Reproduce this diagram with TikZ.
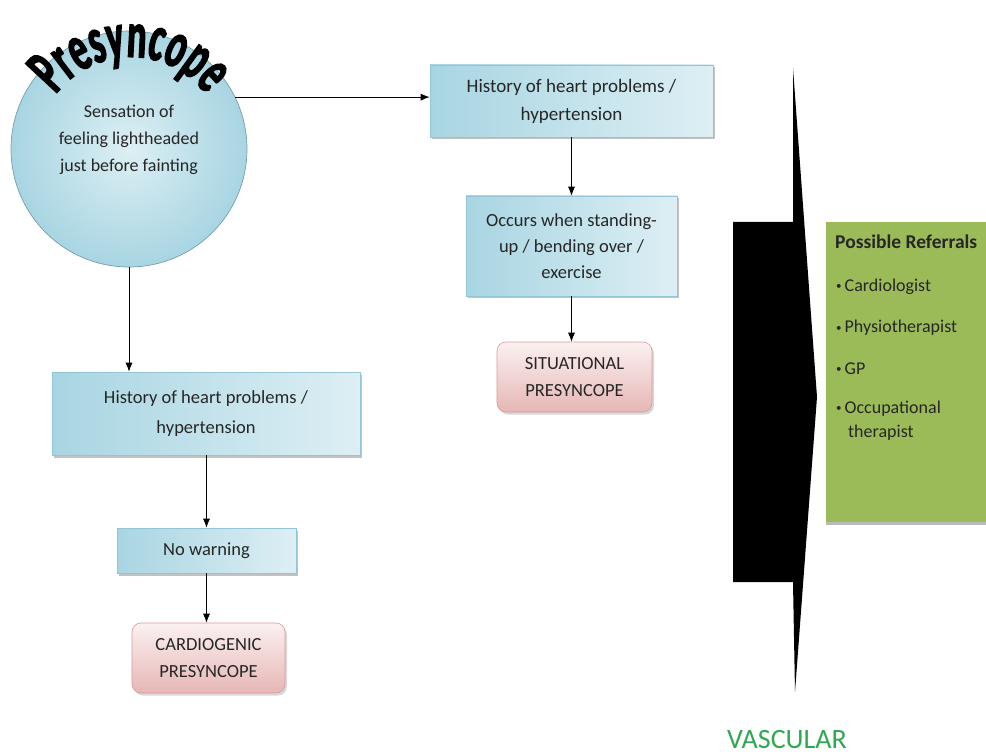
\documentclass[tikz,border=0pt]{standalone}
\usepackage{fontspec}
\setmainfont{Carlito}
\newfontfamily\arcfont[FakeStretch=0.55,FakeBold=2]{Carlito}
\usetikzlibrary{arrows.meta,shadows,decorations.text}

\definecolor{txt}{HTML}{262626}
\definecolor{blueD}{HTML}{A8D5E2}
\definecolor{blueL}{HTML}{DDEFF4}
\definecolor{blueEdge}{HTML}{93C5D4}
\definecolor{pinkT}{HTML}{FBF1F1}
\definecolor{pinkB}{HTML}{E6B6B5}
\definecolor{pinkEdge}{HTML}{D99A98}
\definecolor{olive}{HTML}{9BBB59}
\definecolor{vgreen}{HTML}{30A852}

\newcommand{\refbullet}{{\fontsize{11}{11}\selectfont\raisebox{1.8pt}{•}}\,}

\tikzset{
  boxtext/.style={text=txt, align=center, font=\fontsize{18.5}{28}\selectfont, inner sep=0pt},
  bluebox/.style={boxtext, rectangle, draw=blueEdge, line width=0.6pt,
    left color=blueD, right color=blueL,
    drop shadow={shadow xshift=2pt, shadow yshift=-2.5pt, fill=black!40, opacity=0.6}},
  pinkbox/.style={boxtext, rectangle, rounded corners=9pt, draw=pinkEdge, line width=0.6pt,
    top color=pinkT, bottom color=pinkB, font=\fontsize{18.5}{27}\selectfont,
    drop shadow={shadow xshift=2pt, shadow yshift=-2.5pt, fill=black!30, opacity=0.5}},
  arr/.style={draw=black, line width=0.8pt, -{Latex[length=9pt,width=7pt]}},
  reftext/.style={text=black!85, anchor=base west, inner sep=0pt, font=\fontsize{18}{20}\selectfont},
}

\begin{document}
\begin{tikzpicture}[x=1pt,y=1pt]
\useasboundingbox (0,0) rectangle (986,-754);

% start circle
\node[circle, minimum size=236pt, inner sep=0pt, draw=blueEdge!80!black, line width=0.7pt,
      shading=radial, inner color=blueL, outer color=blueD] (circ) at (129,-149) {};
\path[decorate, decoration={text along path, text align=center,
      text={|\arcfont\bfseries\fontsize{66}{66}\selectfont|Presyncope}}]
  (131,-151) ++(172:94) arc[start angle=172, end angle=8, radius=94];
\node[boxtext, font=\fontsize{18}{27}\selectfont] (circtext) at (129,-140)
  {Sensation of\\feeling lightheaded\\just before fainting};

% right branch
\node[bluebox, minimum width=283pt, minimum height=72pt, font=\fontsize{19}{28}\selectfont] (b1) at (571.5,-101)
  {History of heart problems /\\hypertension};
\node[bluebox, minimum width=211pt, minimum height=100pt, font=\fontsize{18.5}{26}\selectfont] (b2) at (571.5,-246)
  {Occurs when standing-\\up / bending over /\\exercise};
\node[pinkbox, minimum width=155pt, minimum height=70pt] (sit) at (574.5,-377)
  {SITUATIONAL\\PRESYNCOPE};

% left branch
\node[bluebox, minimum width=308pt, minimum height=83pt, font=\fontsize{18.5}{30}\selectfont] (b3) at (206,-413.5)
  {History of heart problems /\\hypertension};
\node[bluebox, minimum width=179pt, minimum height=45pt] (nw) at (206.5,-550.5) {No warning};
\node[pinkbox, minimum width=153pt, minimum height=70pt] (card) at (208.5,-658)
  {CARDIOGENIC\\PRESYNCOPE};

% connectors
\draw[arr] (circ.26) -- (circ.26 -| b1.west);
\draw[arr] (b1.south -| b2.north) -- (b2.north);
\draw[arr] (b2.south -| sit.north) ++(-3,0) coordinate (b2out) -- (b2out |- sit.north);
\draw[arr] (circ.south) -- (circ.south |- b3.north);
\draw[arr] (b3.south -| nw.north) -- (nw.north);
\draw[arr] (nw.south) -- (nw.south |- card.north);

% black arrow shape
\fill[black] (793,-68) -- (817,-397) -- (795,-692) -- (793,-582) -- (733,-582)
  -- (733,-222) -- (793,-222) -- cycle;

% referrals panel
\node[rectangle, fill=olive, minimum width=164pt, minimum height=300pt, inner sep=0pt, anchor=north west,
      drop shadow={shadow xshift=0pt, shadow yshift=-3pt, fill=black!45, opacity=0.6}] (refbox) at (826,-222) {};
\node[reftext, font=\fontsize{19.5}{20}\selectfont\bfseries] (refhead) at (835,-249) {Possible Referrals};
\node[reftext] (r1) at (836,-291) {\refbullet Cardiologist};
\node[reftext] (r2) at (836,-333) {\refbullet Physiotherapist};
\node[reftext] (r3) at (836,-374) {\refbullet GP};
\node[reftext] (r4) at (836,-413) {\refbullet Occupational};
\node[reftext] (r5) at (r4.base west) [xshift=12pt, yshift=-24pt] {therapist};

% bottom label
\node[text=vgreen, inner sep=0pt, anchor=base, font=\fontsize{28}{28}\selectfont] (vasc) at (787,-748) {VASCULAR};
\end{tikzpicture}
\end{document}
